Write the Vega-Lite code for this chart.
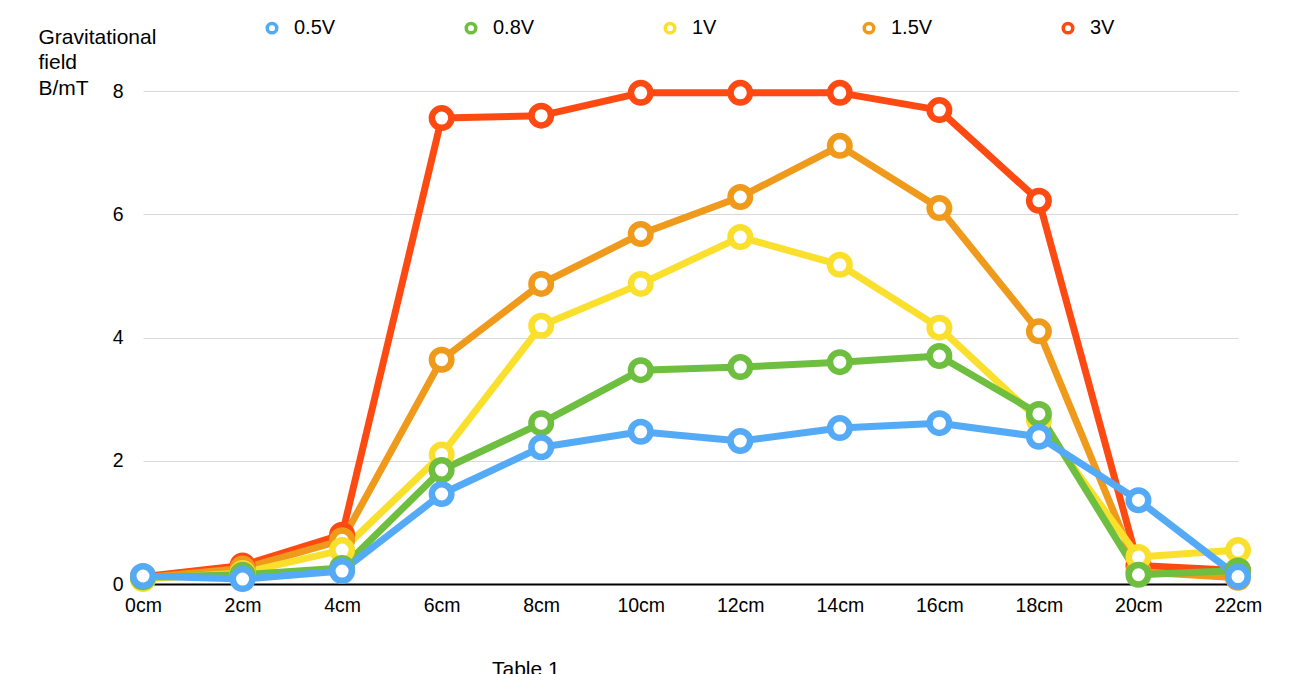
{
  "$schema": "https://vega.github.io/schema/vega-lite/v6.json",
  "width": 1095,
  "height": 493,
  "autosize": {"type": "none"},
  "padding": {"left": 143, "top": 91, "right": 52, "bottom": 90},
  "background": "white",
  "config": {"view": {"stroke": null}, "font": "Liberation Sans"},
  "title": {"text": "Table 1", "orient": "bottom", "anchor": "start", "frame": "group", "dx": 349, "offset": 44, "fontSize": 21, "fontWeight": "normal", "font": "Liberation Sans", "color": "black"},
  "data": {"values": [
    {"series": "3V", "cm": 0, "B": 0.12}, {"series": "3V", "cm": 2, "B": 0.3}, {"series": "3V", "cm": 4, "B": 0.8}, {"series": "3V", "cm": 6, "B": 7.56}, {"series": "3V", "cm": 8, "B": 7.6}, {"series": "3V", "cm": 10, "B": 7.97}, {"series": "3V", "cm": 12, "B": 7.97}, {"series": "3V", "cm": 14, "B": 7.97}, {"series": "3V", "cm": 16, "B": 7.69}, {"series": "3V", "cm": 18, "B": 6.22}, {"series": "3V", "cm": 20, "B": 0.3}, {"series": "3V", "cm": 22, "B": 0.22},
    {"series": "1.5V", "cm": 0, "B": 0.1}, {"series": "1.5V", "cm": 2, "B": 0.25}, {"series": "1.5V", "cm": 4, "B": 0.71}, {"series": "1.5V", "cm": 6, "B": 3.64}, {"series": "1.5V", "cm": 8, "B": 4.87}, {"series": "1.5V", "cm": 10, "B": 5.68}, {"series": "1.5V", "cm": 12, "B": 6.28}, {"series": "1.5V", "cm": 14, "B": 7.11}, {"series": "1.5V", "cm": 16, "B": 6.1}, {"series": "1.5V", "cm": 18, "B": 4.1}, {"series": "1.5V", "cm": 20, "B": 0.2}, {"series": "1.5V", "cm": 22, "B": 0.1},
    {"series": "1V", "cm": 0, "B": 0.08}, {"series": "1V", "cm": 2, "B": 0.18}, {"series": "1V", "cm": 4, "B": 0.55}, {"series": "1V", "cm": 6, "B": 2.1}, {"series": "1V", "cm": 8, "B": 4.19}, {"series": "1V", "cm": 10, "B": 4.87}, {"series": "1V", "cm": 12, "B": 5.63}, {"series": "1V", "cm": 14, "B": 5.18}, {"series": "1V", "cm": 16, "B": 4.16}, {"series": "1V", "cm": 18, "B": 2.66}, {"series": "1V", "cm": 20, "B": 0.44}, {"series": "1V", "cm": 22, "B": 0.55},
    {"series": "0.8V", "cm": 0, "B": 0.11}, {"series": "0.8V", "cm": 2, "B": 0.15}, {"series": "0.8V", "cm": 4, "B": 0.26}, {"series": "0.8V", "cm": 6, "B": 1.85}, {"series": "0.8V", "cm": 8, "B": 2.61}, {"series": "0.8V", "cm": 10, "B": 3.47}, {"series": "0.8V", "cm": 12, "B": 3.52}, {"series": "0.8V", "cm": 14, "B": 3.6}, {"series": "0.8V", "cm": 16, "B": 3.7}, {"series": "0.8V", "cm": 18, "B": 2.76}, {"series": "0.8V", "cm": 20, "B": 0.15}, {"series": "0.8V", "cm": 22, "B": 0.22},
    {"series": "0.5V", "cm": 0, "B": 0.13}, {"series": "0.5V", "cm": 2, "B": 0.08}, {"series": "0.5V", "cm": 4, "B": 0.21}, {"series": "0.5V", "cm": 6, "B": 1.46}, {"series": "0.5V", "cm": 8, "B": 2.22}, {"series": "0.5V", "cm": 10, "B": 2.47}, {"series": "0.5V", "cm": 12, "B": 2.32}, {"series": "0.5V", "cm": 14, "B": 2.53}, {"series": "0.5V", "cm": 16, "B": 2.61}, {"series": "0.5V", "cm": 18, "B": 2.39}, {"series": "0.5V", "cm": 20, "B": 1.36}, {"series": "0.5V", "cm": 22, "B": 0.12}
  ]},
  "encoding": {
    "x": {"field": "cm", "type": "quantitative", "scale": {"domain": [0, 22], "nice": false, "zero": false},
      "axis": {"values": [0, 2, 4, 6, 8, 10, 12, 14, 16, 18, 20, 22], "labelExpr": "datum.value + 'cm'", "title": null, "grid": false, "ticks": false, "domainColor": "black", "domainWidth": 2, "labelFontSize": 19.5, "labelColor": "black", "labelPadding": 12, "labelFont": "Liberation Sans", "labelFlush": false, "labelOverlap": false}},
    "y": {"field": "B", "type": "quantitative", "scale": {"domain": [0, 8], "nice": false},
      "axis": {"values": [0, 2, 4, 6, 8], "title": ["Gravitational", "field", "B/mT"], "titleAngle": 0, "titleAlign": "left", "titleBaseline": "alphabetic", "titleX": -105, "titleY": -48, "titleFontSize": 21, "titleFontWeight": "normal", "titleLineHeight": 25.5, "titleColor": "black", "titleFont": "Liberation Sans", "domain": false, "ticks": false, "gridColor": "#d9d9d9", "gridWidth": 1, "labelFontSize": 19.5, "labelPadding": 20, "labelColor": "black", "labelFont": "Liberation Sans", "labelFlush": false}},
    "color": {"field": "series", "type": "nominal",
      "scale": {"domain": ["0.5V", "0.8V", "1V", "1.5V", "3V"], "range": ["#55aaf6", "#6ebe3f", "#fbdf2d", "#f09a1c", "#fc4a12"]},
      "legend": {"orient": "none", "legendX": 119, "legendY": -73, "direction": "horizontal", "columns": 5, "gridAlign": "all", "columnPadding": 123, "title": null, "labelFontSize": 20, "labelFont": "Liberation Sans", "labelOffset": 12, "symbolType": "circle", "symbolSize": 90, "symbolStrokeWidth": 3.5, "symbolFillColor": "white", "labelColor": "black", "padding": 0}}
  },
  "layer": [
    {"mark": {"type": "line", "strokeWidth": 7, "strokeJoin": "round", "strokeCap": "round"}},
    {"mark": {"type": "point", "shape": "circle", "filled": false, "fill": "white", "fillOpacity": 1, "size": 380, "strokeWidth": 6.5, "opacity": 1}}
  ]
}
